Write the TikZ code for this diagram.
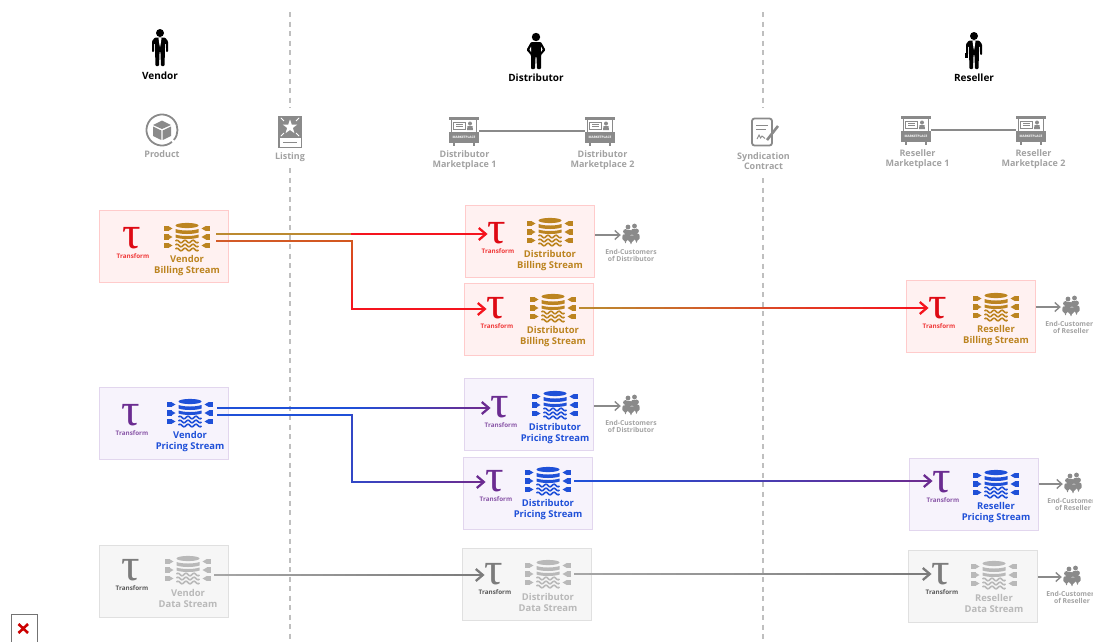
\documentclass[tikz,border=0pt]{standalone}
\usepackage{fontspec}
\setmainfont{Open Sans}
\newfontfamily\taufont{Liberation Serif}
\usepackage{tikz}
\usetikzlibrary{arrows.meta,calc,positioning}

\definecolor{billfill}{HTML}{FFF1F1}
\definecolor{billedge}{HTML}{FFCBCB}
\definecolor{billtau}{HTML}{DE0A14}
\definecolor{billtrf}{HTML}{F03A3A}
\definecolor{billic}{HTML}{BC8420}
\definecolor{pricefill}{HTML}{F7F3FC}
\definecolor{priceedge}{HTML}{E2D6EE}
\definecolor{pricetau}{HTML}{6B2C91}
\definecolor{pricetrf}{HTML}{8A57A8}
\definecolor{priceic}{HTML}{1F50D8}
\definecolor{datafill}{HTML}{F6F6F6}
\definecolor{dataedge}{HTML}{E0E0E0}
\definecolor{datatau}{HTML}{7C7C7C}
\definecolor{datatrf}{HTML}{5A5A5A}
\definecolor{dataic}{HTML}{B9B9B9}
\definecolor{icongray}{HTML}{8A8A8A}
\definecolor{textgray}{HTML}{A2A2A2}
\definecolor{flowred}{HTML}{F5141E}
\definecolor{flowgold}{HTML}{BC8A30}
\definecolor{flowblue}{HTML}{1F50D8}
\definecolor{flowpurple}{HTML}{6B2C91}
\definecolor{flowgray}{HTML}{A6A6A6}

\tikzset{
  streambox/.style={rectangle,draw,line width=1.2pt,minimum width=129pt,minimum height=72pt,anchor=north west},
  taustyle/.style={font=\taufont\fontsize{46}{46}\selectfont,inner sep=0pt},
  trflabel/.style={font=\fontsize{6.3}{7}\selectfont\bfseries,inner sep=0pt},
  streamlabel/.style={font=\fontsize{9.4}{10.2}\selectfont\bfseries,align=center,inner sep=0pt},
  iconbox/.style={minimum width=54pt,minimum height=28pt,inner sep=0pt},
  actorlabel/.style={font=\fontsize{10}{12}\selectfont\bfseries,inner sep=0pt},
  itemlabel/.style={font=\fontsize{9}{10}\selectfont\bfseries,text=textgray,align=center,inner sep=0pt},
  custlabel/.style={font=\fontsize{6.8}{6.6}\selectfont\bfseries,text=textgray,align=center,inner sep=0pt},
  flow/.style={line width=2.3pt,line cap=rect},
  tipped/.style={-{Straight Barb[length=7pt,width=12pt,line width=2.3pt]}},
  custflow/.style={line width=1.4pt,color=icongray,-{Straight Barb[length=5pt,width=9pt,line width=1.4pt]}},
  border/.style={dashed,dash pattern=on 5pt off 4.5pt,line width=1.3pt,color=black!25},
  pics/stream/.style={code={
    \foreach \rw in {-8.5,0,8.5}{
      \fill[#1] (-23,\rw-2.6) rectangle (-18.5,\rw+2.6);
      \fill[#1] (-19,\rw-2.6) -- (-14.5,\rw) -- (-19,\rw+2.6) -- cycle;
      \fill[#1] (23,\rw-2.6) rectangle (18.5,\rw+2.6);
      \fill[#1] (19,\rw-2.6) -- (14.5,\rw) -- (19,\rw+2.6) -- cycle;
    }
    \fill[#1] (0,-11.5) circle[x radius=11.5,y radius=2.6];
    \fill[#1] (-11.5,-8) .. controls (-6,-6) and (6,-6) .. (11.5,-8) -- (11.5,-4.5) .. controls (6,-2.5) and (-6,-2.5) .. (-11.5,-4.5) -- cycle;
    \fill[#1] (-11.5,-2.5) .. controls (-6,-0.5) and (6,-0.5) .. (11.5,-2.5) -- (11.5,0.5) .. controls (6,2.5) and (-6,2.5) .. (-11.5,0.5) -- cycle;
    \foreach \wv in {4.5,8.5,12.5}
      \draw[#1,line width=1.6pt] plot[domain=-11.5:11.5,samples=23] (\x,{\wv+1.3*sin(\x*45)});
  }},
  pics/suitman/.style={code={
    \fill[black] (0,-14) circle (4);
    \fill[black,rounded corners=1pt] (-8,5) -- (-8,-6) -- (-5,-9.5) -- (5,-9.5) -- (8,-6) -- (8,5) -- (6,5) -- (6,-4) -- (5,-4) -- (5,2) -- (4.5,19) -- (1,19) -- (0.4,4) -- (-0.4,4) -- (-1,19) -- (-4.5,19) -- (-5,2) -- (-5,-4) -- (-6,-4) -- (-6,5) -- cycle;
    \fill[white] (-1.6,-9.5) -- (1.6,-9.5) -- (0.5,-2) -- (0,0) -- (-0.5,-2) -- cycle;
  }},
  pics/hipman/.style={code={
    \fill[black] (0,-14) circle (4.2);
    \fill[black,rounded corners=1pt] (-5,-9) -- (5,-9) -- (9.5,-1) -- (5,4) -- (5,18) -- (1,18) -- (0.4,5) -- (-0.4,5) -- (-1,18) -- (-5,18) -- (-5,4) -- (-9.5,-1) -- cycle;
    \fill[white] (-6.5,-1.5) -- (-5,-4.5) -- (-5,1) -- cycle;
    \fill[white] (6.5,-1.5) -- (5,-4.5) -- (5,1) -- cycle;
  }},
  pics/stall/.style={code={
    \fill[icongray] (-15,-14.5) rectangle (15,-11.5);
    \fill[icongray] (-13,-11.5) rectangle (-12,1);
    \fill[icongray] (12,-11.5) rectangle (13,1);
    \draw[icongray,line width=1pt] (-10.5,-9) rectangle (1,-2);
    \fill[icongray] (-8.5,-7) rectangle (-1,-6);
    \fill[icongray] (-8.5,-5) rectangle (-1,-4);
    \fill[icongray] (6,-7.5) circle (2);
    \fill[icongray] (3,-1) -- (3.5,-4.8) -- (8.5,-4.8) -- (9,-1) -- cycle;
    \fill[icongray] (-15,1) rectangle (15,12);
    \fill[icongray] (-11,12) rectangle (-9,15);
    \fill[icongray] (9,12) rectangle (11,15);
    \node[font=\fontsize{3.2}{3.2}\selectfont\bfseries,text=white,inner sep=0pt] (-tag) at (0,6.5) {MARKETPLACE};
  }},
  pics/crowd/.style={code={
    \foreach \px/\py in {-3/-4.5,3.5/-5.5,-5.5/0,5.5/-0.5,0/1}{
      \fill[#1] (\px,\py-3.5) circle (2.4);
      \fill[#1,rounded corners=1pt] (\px-3.2,\py+5) -- (\px-2.9,\py-0.6) -- (\px+2.9,\py-0.6) -- (\px+3.2,\py+5) -- (\px+1.3,\py+5) -- (\px,\py+9) -- (\px-1.3,\py+5) -- cycle;
    }
  }},
}

% one colored box of a stream row
\newcommand{\streamgroup}[6]{%
  \node[streambox,draw=#2edge,fill=#2fill] (#1) at (#3) {};
  \node[taustyle,text=#2tau] (#1tau) at (#4) {τ};
  \node[trflabel,text=#2trf] (#1trf) at ($(#4)+(1,18)$) {Transform};
  \node[iconbox] (#1icon) at (#5) {};
  \pic at (#1icon) {stream=#2ic};
  \node[streamlabel,text=#2ic] (#1lab) at ($(#5)+(0,28.5)$) {#6};
}
\newcommand{\custgroup}[3]{%
  \node[iconbox,minimum width=20pt,minimum height=20pt] (#1) at (#2) {};
  \pic at (#1) {crowd=icongray};
  \node[custlabel] (#1lab) at ($(#2)+(0,20.5)$) {End-Customers\\of #3};
}
\newcommand{\marketstall}[4]{%
  \node[minimum width=30pt,minimum height=30pt,inner sep=0pt] (#1) at (#2) {};
  \pic (#1pic) at (#1) {stall};
  \node[itemlabel] (#1lab) at (#3) {#4};
}
% line that fades from one color to the other
\newcommand{\gradflow}[4]{%
  \foreach \i in {0,...,23}{
    \pgfmathsetmacro{\fra}{\i/24}
    \pgfmathsetmacro{\frb}{(\i+1)/24}
    \pgfmathsetmacro{\mixv}{100-\i*100/23}
    \draw[flow,color=#3!\mixv!#4] ($(#1)!\fra!(#2)$) -- ($(#1)!\frb!(#2)$);
  }
}
\newcommand{\gradarrow}[4]{%
  \draw[flow,tipped,color=#4] (#1) -- (#2);
  \coordinate (gradend) at ($(#2)+(-8,0)$);
  \gradflow{#1}{gradend}{#3}{#4}
}

\begin{document}
\begin{tikzpicture}[x=1pt,y=-1pt]
\useasboundingbox (0,0) rectangle (1093,641);
\clip (0,0) rectangle (1093,641);

% column borders
\draw[border] (290,12) -- (290,108);
\draw[border] (290,168) -- (290,641);
\draw[border] (763,12) -- (763,108);
\draw[border] (763,178) -- (763,641);

% actors
\node[minimum width=18pt,minimum height=38pt,inner sep=0pt] (vendor) at (160,47) {};
\pic at (vendor) {suitman};
\node[actorlabel] (vendorlab) at (160,76) {Vendor};
\node[minimum width=20pt,minimum height=38pt,inner sep=0pt] (distri) at (536,51) {};
\pic at (distri) {hipman};
\node[actorlabel] (distrilab) at (536,78) {Distributor};
\node[minimum width=18pt,minimum height=38pt,inner sep=0pt] (reseller) at (974,50) {};
\pic at (reseller) {suitman};
\fill[black] (964.5,53) rectangle (967.5,58);
\node[actorlabel] (resellerlab) at (974,78) {Reseller};

% product
\node[circle,minimum size=32pt,inner sep=0pt] (product) at (162,130) {};
\draw[icongray,line width=1.8pt] ($(product)+(50:15.5)$) arc (50:400:15.5);
\fill[icongray] (162,120.5) -- (171,125) -- (162,129) -- (153,125) -- cycle;
\fill[icongray] (153,126.5) -- (161.3,130.5) -- (161.3,140) -- (153,136) -- cycle;
\fill[icongray] (171,126.5) -- (162.7,130.5) -- (162.7,140) -- (171,136) -- cycle;
\node[itemlabel] (productlab) at (162,154) {Product};

% listing
\node[fill=icongray,minimum width=24pt,minimum height=32pt,inner sep=0pt] (listing) at (290,131.5) {};
\fill[white] (279.5,138) rectangle (300.5,146.5);
\fill[icongray] (283,141.5) rectangle (297,143);
\fill[white,shift={(290,127)}] (-90:7.5) \foreach \a/\q in {-54/3,-18/7.5,18/3,54/7.5,90/3,126/7.5,162/3,198/7.5,234/3} { -- (\a:\q) } -- cycle;
\foreach \a in {-135,-45,45,135}
  \draw[white,line width=0.8pt,shift={(290,127)}] (\a:8.5) -- (\a:13);
\node[itemlabel] (listinglab) at (290,157) {Listing};

% marketplaces
\marketstall{dmarketa}{464,131}{464.5,160}{Distributor\\Marketplace 1}
\marketstall{dmarketb}{600,131}{602.5,160}{Distributor\\Marketplace 2}
\marketstall{rmarketa}{916,130}{917.5,159}{Reseller\\Marketplace 1}
\marketstall{rmarketb}{1031,130}{1033.5,159}{Reseller\\Marketplace 2}
\draw[icongray,line width=1.2pt] (dmarketa) -- (dmarketb);
\draw[icongray,line width=1.2pt] (rmarketa) -- (rmarketb);

% contract
\node[rectangle,draw=icongray,line width=1.8pt,rounded corners=2.5pt,minimum width=20pt,minimum height=27pt,inner sep=0pt] (contract) at (762,132) {};
\fill[icongray] (756,124.5) rectangle (768,126);
\fill[icongray] (756,128.5) rectangle (766,130);
\draw[icongray,line width=0.9pt] (757,139) -- (759,135) -- (760.5,138) -- (762,136) -- (765,138.5);
\draw[icongray,line width=2.6pt] (767,140) -- (778,126);
\node[itemlabel] (contractlab) at (763.5,161) {Syndication\\Contract};

% billing row
\streamgroup{vbill}{bill}{99,210}{132,238}{187,237}{Vendor\\Billing Stream}
\streamgroup{dbilla}{bill}{465,205}{497,233}{550,232}{Distributor\\Billing Stream}
\streamgroup{dbillb}{bill}{464,283}{496,308}{553,308}{Distributor\\Billing Stream}
\streamgroup{rbill}{bill}{906,280}{938,308}{996,307}{Reseller\\Billing Stream}

% pricing row
\streamgroup{vprice}{price}{99,387}{131,415}{190,413}{Vendor\\Pricing Stream}
\streamgroup{dpricea}{price}{464,378}{500,407}{555,405}{Distributor\\Pricing Stream}
\streamgroup{dpriceb}{price}{463,457}{495,481}{548,481}{Distributor\\Pricing Stream}
\streamgroup{rprice}{price}{909,458}{942,482}{996,484}{Reseller\\Pricing Stream}

% data row
\streamgroup{vdata}{data}{99,545}{131,570}{188,570}{Vendor\\Data Stream}
\streamgroup{ddata}{data}{462,548}{494,574}{548,574}{Distributor\\Data Stream}
\streamgroup{rdata}{data}{908,550}{941,574}{994,575}{Reseller\\Data Stream}

% end customers
\custgroup{custa}{631,235}{Distributor}
\custgroup{custb}{1071,307}{Reseller}
\custgroup{custc}{631,406}{Distributor}
\custgroup{custd}{1073,484}{Reseller}
\custgroup{custe}{1072,577}{Reseller}
\draw[custflow] (dbilla.east |- custa) -- (custa.west);
\draw[custflow] (rbill.east |- custb) -- (custb.west);
\draw[custflow] (dpricea.east |- custc) -- (custc.west);
\draw[custflow] (rprice.east |- custd) -- (custd.west);
\draw[custflow] (rdata.east |- custe) -- (custe.west);

% billing flows
\coordinate (vbilla) at (217,234);
\coordinate (vbillb) at (217,241);
\coordinate (bturn) at (352,234);
\coordinate (bcorna) at (352,241);
\coordinate (bcornb) at (352,309);
\coordinate (btipa) at (dbillatau.west |- bturn);
\coordinate (btipb) at (dbillbtau.west |- bcornb);
\gradflow{vbilla}{bturn}{flowgold}{flowgold}
\gradarrow{bturn}{btipa}{flowred}{flowred}
\gradflow{vbillb}{bcorna}{flowgold}{billic!60!flowred}
\gradflow{bcorna}{bcornb}{billic!60!flowred}{flowred}
\gradarrow{bcornb}{btipb}{flowred}{flowred}
\coordinate (bnext) at (dbillbicon.east);
\coordinate (btipc) at (rbilltau.west |- bnext);
\gradarrow{bnext}{btipc}{flowgold}{flowred}

% pricing flows
\coordinate (vpricea) at (218,408);
\coordinate (vpriceb) at (218,415);
\coordinate (pturn) at (352,408);
\coordinate (pcorna) at (352,415);
\coordinate (pcornb) at (352,482);
\coordinate (ptipa) at (dpriceatau.west |- pturn);
\coordinate (ptipb) at (dpricebtau.west |- pcornb);
\gradflow{vpricea}{pturn}{flowblue}{flowblue}
\gradarrow{pturn}{ptipa}{flowblue}{flowpurple}
\gradflow{vpriceb}{pcorna}{flowblue}{flowblue}
\gradflow{pcorna}{pcornb}{flowblue}{flowblue!75!flowpurple}
\gradarrow{pcornb}{ptipb}{flowblue!75!flowpurple}{flowpurple}
\coordinate (pnext) at (dpricebicon.east);
\coordinate (ptipc) at (rpricetau.west |- pnext);
\gradarrow{pnext}{ptipc}{flowblue}{flowpurple}

% data flows
\coordinate (vnext) at (vdataicon.east |- 0,575);
\coordinate (dtipa) at (ddatatau.west |- vnext);
\gradarrow{vnext}{dtipa}{flowgray}{datatau}
\coordinate (dnext) at (ddataicon.east);
\coordinate (dtipb) at (rdatatau.west |- dnext);
\gradarrow{dnext}{dtipb}{flowgray}{datatau}

% broken image mark
\node[rectangle,draw=black!55,fill=white,line width=1.5pt,minimum width=26pt,minimum height=30pt,inner sep=0pt,anchor=north west] (brokenimg) at (10.5,613.5) {};
\draw[color=red!80!black,line width=2.6pt] (18.5,624) -- (28,633);
\draw[color=red!80!black,line width=2.6pt] (28,624) -- (18.5,633);
\end{tikzpicture}
\end{document}
